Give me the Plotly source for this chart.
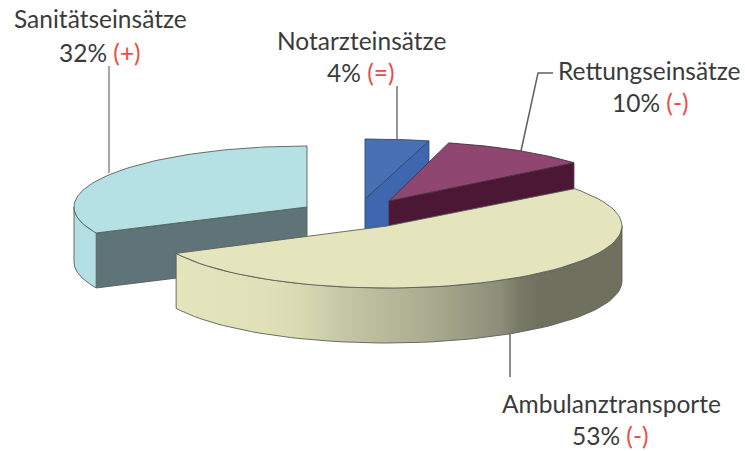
import math
import plotly.graph_objects as go

# ---- data ----
categories = ["Sanitätseinsätze", "Notarzteinsätze", "Rettungseinsätze", "Ambulanztransporte"]
shares = [32, 4, 10, 53]
changes = ["(+)", "(=)", "(-)", "(-)"]

# ---- layout / styling of the exploded 3D pie (screen space, y down) ----
FONT = "Lato"
FONT_SIZE = 24.5
TEXT = "#3b3b3b"
RED = "#ee4a4a"
EDGE = "#5a5f58"
DEPTH = 55
STYLE = {
    "Sanitätseinsätze": dict(c=(307, 207), rx=233, ry=61, start=154.8,
                             top="#b5e1e5", cut="#5f7479", wall="#b3dfe4", edge=EDGE),
    "Notarzteinsätze": dict(c=(365, 199), rx=257, ry=60, start=270,
                            top="#4a70b4", cut="#3f67b0", wall="#3f67b0", edge="#2c4672"),
    "Rettungseinsätze": dict(c=(389, 201), rx=240, ry=60, start=284.4,
                             top="#8f4670", cut="#4b1734", wall="#4b1734", edge="#4a3040"),
    "Ambulanztransporte": dict(c=(387, 226), rx=235, ry=62, start=-37,
                               top="#e5e5bd", cut="#e5e5bd", wall=None, edge=EDGE),
}
AMB_GRADIENT = [[0, "#e5e5bd"], [0.2, "#e1e1b9"], [0.28, "#d9d9b3"], [0.37, "#c6c7a6"],
                [0.55, "#adae91"], [0.73, "#8c8d78"], [0.77, "#777865"], [0.82, "#6f705e"],
                [1, "#6f705e"]]
LEADERS = {
    "Sanitätseinsätze": ([109, 109], [173, 66], "#a8a8a8", 2.2),
    "Notarzteinsätze": ([397, 397], [139, 86], "#707070", 1.5),
    "Rettungseinsätze": ([521, 538, 553], [151, 73, 73], "#606060", 1.5),
    "Ambulanztransporte": ([510, 510], [334, 377], "#707070", 1.6),
}
LABEL_POS = {
    "Sanitätseinsätze": ((100, 18), (100, 52)),
    "Notarzteinsätze": ((361, 40), (360, 72)),
    "Rettungseinsätze": ((649, 70), (650, 102)),
    "Ambulanztransporte": ((611, 403), (610, 435)),
}


def rim(st, t):
    a = math.radians(t)
    return st["c"][0] + st["rx"] * math.cos(a), st["c"][1] + st["ry"] * math.sin(a)


def arc(st, t0, t1, n=70):
    pts = [rim(st, t0 + (t1 - t0) * i / n) for i in range(n + 1)]
    return [p[0] for p in pts], [p[1] for p in pts]


fig = go.Figure()


def poly(xs, ys, color=None, gradient=None, lw=0.9, edge=EDGE):
    kw = dict(fillgradient=dict(type="horizontal", colorscale=gradient)) if gradient else dict(fillcolor=color)
    fig.add_trace(go.Scatter(x=list(xs) + [xs[0]], y=list(ys) + [ys[0]], mode="lines", fill="toself",
                             line=dict(color=edge, width=lw), hoverinfo="skip", showlegend=False, **kw))


for name, v in zip(categories, shares):
    st = STYLE[name]
    t0 = st["start"]
    t1 = t0 + v * 3.6
    cx, cy = st["c"]
    # cut face towards the viewer
    for t in (t0, t1):
        ex, ey = rim(st, t)
        if name == "Ambulanztransporte":
            continue
        if (name == "Sanitätseinsätze" and t == t1):
            continue
        if (name in ("Notarzteinsätze", "Rettungseinsätze")) and t == t0:
            continue
        poly([cx, ex, ex, cx], [cy, ey, ey + DEPTH, cy + DEPTH], color=st["cut"], edge=st["edge"])
    # visible outer wall (front half of the rim)
    w0, w1 = max(t0, 0), min(t1, 180)
    if w1 > w0:
        ax, ay = arc(st, w0, w1)
        xs = ax + ax[::-1]
        ys = ay + [y + DEPTH for y in ay[::-1]]
        if st["wall"]:
            poly(xs, ys, color=st["wall"], edge=st["edge"])
        else:
            poly(xs, ys, gradient=AMB_GRADIENT, edge=st["edge"])
    # top face
    ax, ay = arc(st, t0, t1)
    poly([cx] + ax, [cy] + ay, color=st["top"], edge=st["edge"])

shapes = []
for name in categories:
    xs, ys, col, w = LEADERS[name]
    path = "M " + " L ".join(f"{x},{y}" for x, y in zip(xs, ys))
    shapes.append(dict(type="path", path=path, line=dict(color=col, width=w), xref="x", yref="y", layer="below"))

annotations = []
for name, v, ch in zip(categories, shares, changes):
    (x1, y1), (x2, y2) = LABEL_POS[name]
    annotations.append(dict(x=x1, y=y1, text=name, showarrow=False, xanchor="center", yanchor="middle",
                            font=dict(family=FONT, size=FONT_SIZE, color=TEXT)))
    annotations.append(dict(x=x2, y=y2, text=f'{v}% <span style="color:{RED}">{ch}</span>', showarrow=False,
                            xanchor="center", yanchor="middle", font=dict(family=FONT, size=FONT_SIZE, color=TEXT)))

fig.update_layout(
    width=745, height=451, margin=dict(l=0, r=0, t=0, b=0),
    paper_bgcolor="white", plot_bgcolor="white", showlegend=False,
    xaxis=dict(range=[0, 745], visible=False, fixedrange=True),
    yaxis=dict(range=[451, 0], visible=False, fixedrange=True),
    shapes=shapes, annotations=annotations,
)
fig.write_html("out.html", config=dict(displayModeBar=False),
               post_script="document.body.style.margin='0';document.documentElement.style.overflow='hidden';")
